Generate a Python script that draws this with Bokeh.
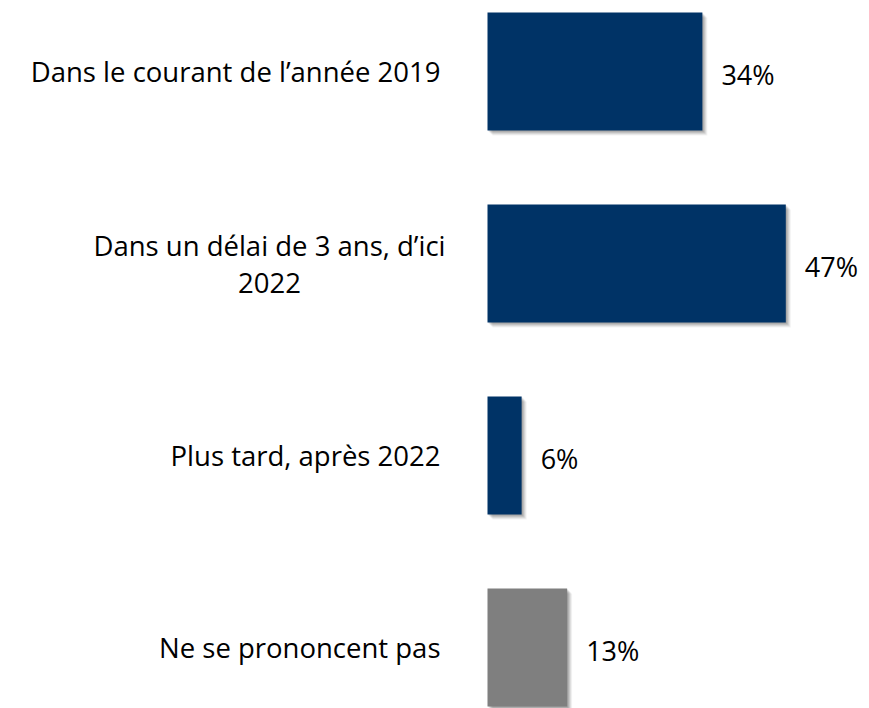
from bokeh.plotting import figure
from bokeh.models import ColumnDataSource, Range1d
from bokeh.embed import file_html
from bokeh.resources import INLINE
from bokeh.core.properties import value

categories = [
    "Dans le courant de l\u2019ann\u00e9e 2019",
    "Dans un d\u00e9lai de 3 ans, d\u2019ici\n2022",
    "Plus tard, apr\u00e8s 2022",
    "Ne se prononcent pas",
]
# bar lengths as drawn (unrounded) and the rounded labels
values = [34.0, 47.2, 5.4, 12.6]
labels = ["34%", "47%", "6%", "13%"]
colors = ["#003366", "#003366", "#003366", "#7f7f7f"]

n = len(categories)
ypos = [n - 1 - i for i in range(n)]
align = ["center" if "\n" in c else "right" for c in categories]
xoff = [-218 if "\n" in c else -47 for c in categories]

src = dict(y=ypos, v=values, c=colors, lab=labels, cat=categories,
           align=align, xoff=xoff)
source = ColumnDataSource(src)

W, H = 869, 708
ppx = 6.32  # px per percent
x0px = 487
top = 71
p = figure(width=W, height=H, output_backend="svg", toolbar_location=None,
           x_range=Range1d(-x0px / ppx, (W - x0px) / ppx),
           y_range=Range1d(3 + top / 192 - H / 192, 3 + top / 192),
           min_border=0, outline_line_color=None)
p.axis.visible = False
p.grid.visible = False
p.background_fill_color = "white"
p.border_fill_color = "white"

bh = 0.615
# soft drop shadow layers
for k, a in [(1, 0.10), (2, 0.10), (3, 0.09), (4, 0.07), (5, 0.05)]:
    dx = k / ppx
    dy = k / 192
    p.hbar(y=[yy - dy for yy in ypos], left=[dx] * n,
           right=[v + dx for v in values], height=bh,
           fill_color="#000000", fill_alpha=a, line_color=None)

p.hbar(y="y", left=0, right="v", height=bh, fill_color="c",
       line_color=None, source=source)

p.text(x="v", y="y", text="lab", x_offset=19, y_offset=3,
       text_align="left", text_baseline="middle",
       text_font=value("Open Sans"), text_font_size="27px",
       text_color="#000000", source=source)

p.text(x=0, y="y", text="cat", x_offset="xoff", y_offset=0,
       text_align="align", text_baseline="middle",
       text_font=value("Open Sans"), text_font_size="27.5px",
       text_color="#000000", text_line_height=1.0, source=source)

open("out.html", "w").write(file_html(p, INLINE))
